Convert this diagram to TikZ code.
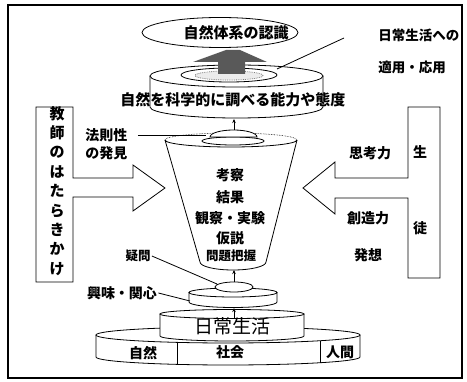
\documentclass[tikz,border=0pt]{standalone}
\usepackage{fontspec}
\setmainfont{Noto Sans CJK JP}
\usetikzlibrary{arrows.meta}

\begin{document}
\begin{tikzpicture}[x=1pt,y=-1pt,line width=0.8pt,
	txt/.style={inner sep=1pt,font=\fontsize{14}{16}\selectfont\bfseries},
	small/.style={inner sep=1pt,font=\fontsize{12.5}{14}\selectfont\bfseries},
	big/.style={inner sep=1pt,font=\fontsize{15}{16}\selectfont\bfseries},
	up/.style={-{Stealth[length=4pt,width=3.5pt]}}]
	\useasboundingbox (0,0) rectangle (467,382);
	\draw[line width=1.5pt] (8,5) rectangle (462,378);

	\draw (36,107) -- (73,107) -- (73,178) -- (133,178) -- (133,165) -- (165,188) -- (133,211) -- (133,197) -- (73,197) -- (73,282) -- (36,282) -- cycle;
	\node[inner sep=0pt,align=center,font=\fontsize{15}{19.4}\selectfont\bfseries] (teacher) at (57,191) {教\\師\\の\\は\\た\\ら\\き\\か\\け};

	\draw (440,107) -- (408,107) -- (408,178) -- (335,178) -- (335,162) -- (303,188) -- (335,214) -- (335,198) -- (408,198) -- (408,278) -- (440,278) -- cycle;
	\node[txt] (sei) at (420,152) {生};
	\node[txt] (to) at (420,228) {徒};
	\node[txt] (shikou) at (370,153) {思考力};
	\node[txt] (souzou) at (368,218) {創造力};
	\node[txt] (hassou) at (368,255) {発想};

	\draw[fill=white] (96,335) -- (96,357) arc[start angle=180,end angle=0,x radius=132,y radius=8] -- (360,335);
	\draw[fill=white] (228,335) ellipse[x radius=132,y radius=8];
	\draw (177,342.4) -- (177,364.4);
	\draw (320,340.7) -- (320,362.7);
	\node[txt] (shizen) at (143,353) {自然};
	\node[txt] (shakai) at (230,352) {社会};
	\node[txt] (ningen) at (340,352) {人間};

	\draw[fill=white] (160,314) -- (160,336) arc[start angle=180,end angle=0,x radius=72,y radius=5] -- (304,314);
	\draw[fill=white] (232,314) ellipse[x radius=72,y radius=4.5];
	\node[inner sep=1pt,font=\fontsize{19}{20}\selectfont] (life) at (232,326) {日常生活};

	\draw[fill=white] (189,292.5) -- (189,302) arc[start angle=180,end angle=0,x radius=44,y radius=5.5] -- (277,292.5);
	\draw[fill=white] (233,292.5) ellipse[x radius=44,y radius=4.5];
	\coordinate (lifetop) at (234,319);
	\coordinate (discbot) at (234,308);
	\draw[up] (lifetop) -- (discbot);
	\draw[fill=white] (234,287) ellipse[x radius=19,y radius=5];

	\coordinate (moundtop) at (234,282);
	\coordinate (funnelbot) at (234,270);
	\draw[up] (moundtop) -- (funnelbot);

	\draw[fill=white] (165,140) -- (200,262) arc[start angle=180,end angle=0,x radius=33,y radius=8] -- (297,140);
	\draw[densely dotted,line width=0.6pt] (165,140) arc[start angle=180,end angle=360,x radius=66,y radius=7];
	\draw (165,140) arc[start angle=180,end angle=0,x radius=66,y radius=7];
	\draw[fill=white] (233,141) ellipse[x radius=31,y radius=4];
	\draw[fill=white] (210,137) arc[start angle=180,end angle=360,x radius=23.5,y radius=7] -- cycle;
	\coordinate (dometop) at (234,130);
	\coordinate (cylbot) at (234,119);
	\draw[up] (dometop) -- (cylbot);

	\node[txt] (kousatsu) at (230,175) {考察};
	\node[txt] (kekka) at (230,197) {結果};
	\node[txt] (kansatsu) at (230,218) {観察・実験};
	\node[txt] (kasetsu) at (230,238) {仮説};
	\node[small] (mondai) at (231,256) {問題把握};

	\draw[fill=white] (150,76) -- (150,107) arc[start angle=180,end angle=0,x radius=86.5,y radius=11] -- (323,76);
	\draw[fill=white] (236.5,76) ellipse[x radius=86.5,y radius=11];
	\draw (229,75) ellipse[x radius=48,y radius=7];
	\draw[fill=gray!15,draw=gray,densely dotted] (229,75.5) ellipse[x radius=34,y radius=4.5];
	\fill[black!65] (218,74) -- (218,62) -- (193,62) -- (226,50) -- (240,50) -- (267,62) -- (245,62) -- (245,74) -- cycle;
	\node[big] (ability) at (233,100) {自然を科学的に調べる能力や態度};

	\draw[fill=white] (220,32.5) ellipse[x radius=78,y radius=15];
	\node[big] (ninshiki) at (236,33) {自然体系の認識};

	\node[txt,anchor=west,font=\fontsize{13.5}{16}\selectfont\bfseries] (tekiyou) at (377,35) {日常生活への};
	\node[txt,anchor=west,font=\fontsize{13.5}{16}\selectfont\bfseries] (ouyou) at (377,67) {適用・応用};
	\coordinate (tekiA) at (344,38);
	\coordinate (tekiB) at (277,69);
	\draw (tekiA) -- (tekiB);

	\node[txt,anchor=west] (housoku) at (84,135) {法則性};
	\node[txt,anchor=west] (hakken) at (84,153) {の発見};
	\coordinate (housokuB) at (206,135);
	\draw ([xshift=9pt]housoku.east) -- (housokuB);

	\node[small] (gimon) at (138,256) {疑問};
	\coordinate (gimonB) at (217,284);
	\draw (gimon.east) -- (gimonB);

	\node[txt] (kyoumi) at (122,293) {興味・関心};
	\coordinate (kyoumiB) at (190,301);
	\draw (kyoumi.east) -- (kyoumiB);
\end{tikzpicture}
\end{document}
